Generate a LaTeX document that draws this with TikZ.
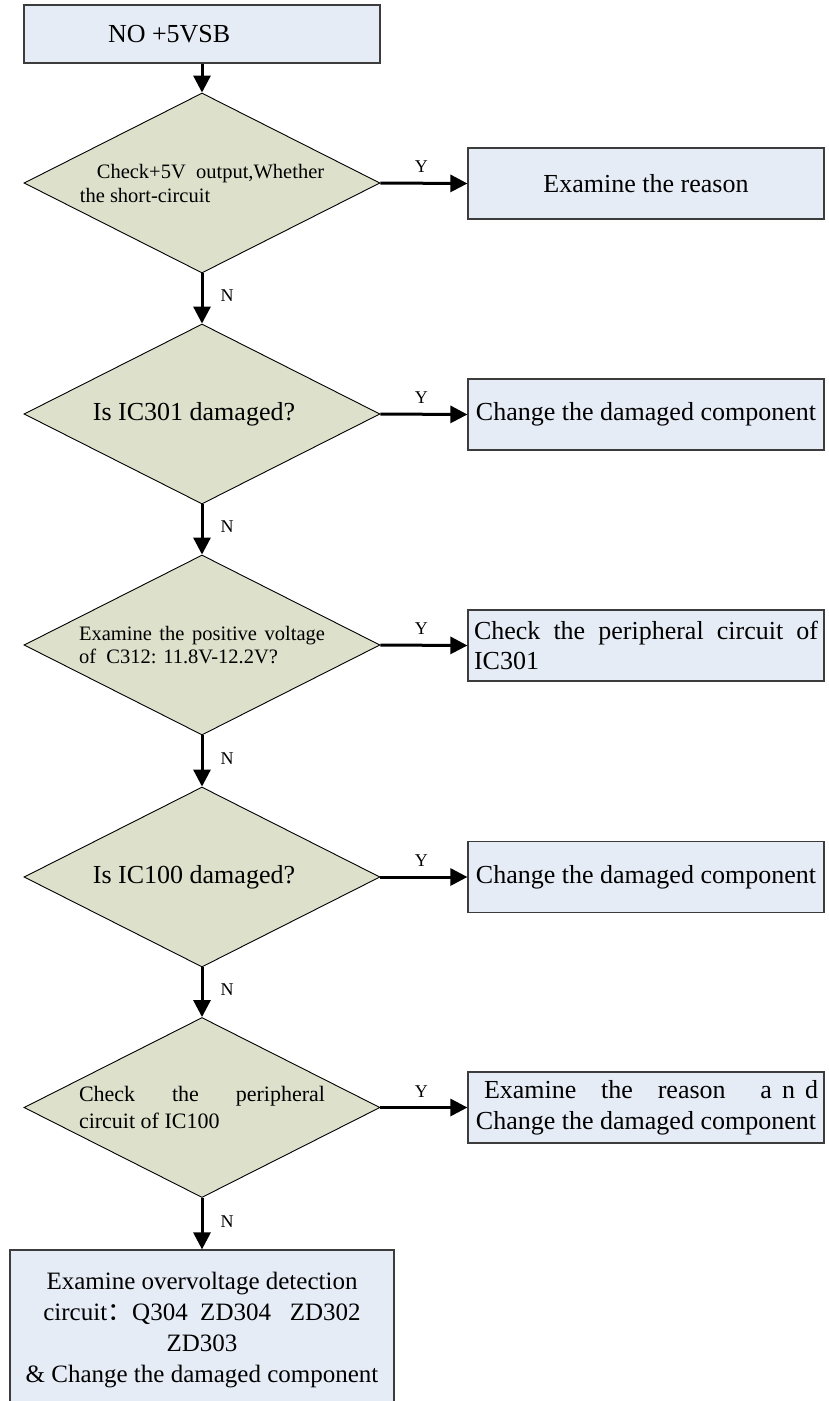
\documentclass[tikz,border=0pt]{standalone}
\usepackage{fontspec}
\setmainfont{Liberation Serif}
\newfontfamily\cjk{Noto Sans CJK SC}
\usetikzlibrary{shapes.geometric,arrows.meta}
\definecolor{boxfill}{RGB}{230,236,246}
\definecolor{decfill}{RGB}{221,225,204}
\definecolor{boxline}{RGB}{60,60,60}
\begin{document}
\begin{tikzpicture}[x=1pt,y=-1pt,
  proc/.style={draw=boxline, line width=1.2pt, fill=boxfill, minimum width=356pt, minimum height=71pt, inner sep=0pt, font=\fontsize{26}{30}\selectfont},
  dec/.style={diamond, draw=black, line width=0.9pt, fill=decfill, minimum width=356pt, minimum height=180pt, aspect=2, inner sep=0pt},
  conn/.style={line width=3pt, -{Triangle[length=17pt,width=17pt]}},
  lab/.style={font=\fontsize{18}{20}\selectfont, inner sep=0pt},
  nlab/.style={lab, pos=0.45, anchor=west, xshift=17pt},
  ylab/.style={lab, pos=0.47, anchor=south, yshift=9pt}]
\useasboundingbox (0,0) rectangle (828,1401);
\clip (0,0) rectangle (828,1401);
\fill[white] (0,0) rectangle (828,1401);

\node[proc, minimum height=58pt] (start) at (202,34) {\makebox[356pt][l]{\hspace{84pt}NO +5VSB}};

\node[dec, align=left, font=\fontsize{20.5}{24}\selectfont] (d1) at (202,183)
  {\hspace*{17pt}Check+5V\ \ output,Whether\\the short-circuit};
\node[dec, font=\fontsize{26}{30}\selectfont] (d2) at (202,414) {Is IC301 damaged?\kern16pt};
\node[dec, text width=246pt, align=justify, font=\fontsize{20.5}{22.5}\selectfont] (d3) at (202,645)
  {Examine the positive voltage\linebreak of\ \ C312: 11.8V-12.2V?};
\node[dec, font=\fontsize{26}{30}\selectfont] (d4) at (202,877) {Is IC100 damaged?\kern16pt};
\node[dec, text width=246pt, align=justify, font=\fontsize{22}{27}\selectfont] (d5) at (202,1107.5)
  {Check the peripheral\linebreak circuit of IC100};

\node[proc] (r1) at (646,183.5) {Examine the reason};
\node[proc] (r2) at (646,414.5) {Change the damaged component};
\node[proc, text width=344pt, align=justify] (r3) at (646,645.5) {Check the peripheral circuit of\linebreak IC301};
\node[proc] (r4) at (646,877) {Change the damaged component};
\node[proc, align=center, font=\fontsize{26}{31}\selectfont] (r5) at (646,1107.5)
  {\makebox[344pt][l]{\hspace{10pt}Examine\hfill the\hfill reason\hfill\hspace{10pt}a\hspace{10pt}n\hspace{10pt}d}\\Change the damaged component};

\node[proc, minimum width=384pt, minimum height=160pt, align=center, font=\fontsize{25}{31}\selectfont] (fin) at (202,1330)
  {Examine overvoltage detection\\circuit{\cjk ：}Q304\ \ ZD304\ \ \ ZD302\\ZD303\\\&\ Change the damaged component};

\draw[conn] (start.south) -- (d1.north);
\draw[conn] (d1.south) -- node[nlab] {N} (d2.north);
\draw[conn] (d2.south) -- node[nlab] {N} (d3.north);
\draw[conn] (d3.south) -- node[nlab] {N} (d4.north);
\draw[conn] (d4.south) -- node[nlab] {N} (d5.north);
\draw[conn] (d5.south) -- node[nlab] {N} (fin.north);

\draw[conn] (d1.east) -- node[ylab] {Y} (r1.west);
\draw[conn] (d2.east) -- node[ylab] {Y} (r2.west);
\draw[conn] (d3.east) -- node[ylab] {Y} (r3.west);
\draw[conn] (d4.east) -- node[ylab] {Y} (r4.west);
\draw[conn] (d5.east) -- node[ylab] {Y} (r5.west);
\end{tikzpicture}
\end{document}
